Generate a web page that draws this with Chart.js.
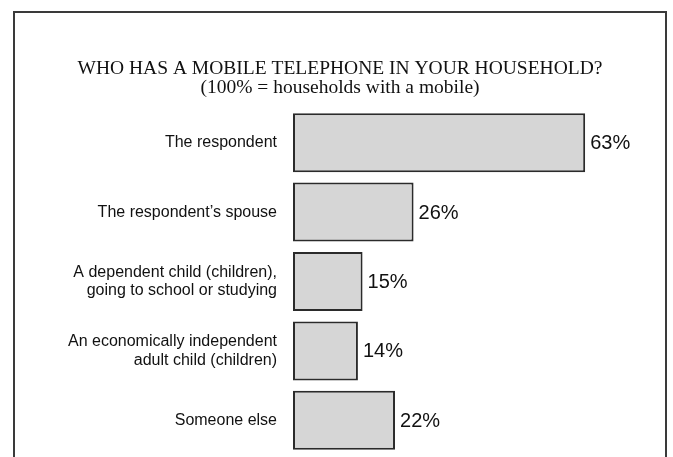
<!DOCTYPE html>
<html>
<head>
<meta charset="utf-8">
<script src="https://cdn.jsdelivr.net/npm/chart.js@4/dist/chart.umd.min.js"></script>
<style>
    html, body { margin: 0; padding: 0; background: #fff; overflow: hidden; }
    canvas { display: block; }
</style>
</head>
<body>
<canvas id="mobileChart" width="673" height="457"></canvas>
<script>
// who has a mobile in the household
const categories = [
    'The respondent',
    'The respondent\u2019s spouse',
    ['A dependent child (children),', 'going to school or studying'],
    ['An economically independent', 'adult child (children)'],
    'Someone else'
];
const shares = [63, 26, 15, 14, 22];
const titleLines = [
    'WHO HAS A MOBILE TELEPHONE IN YOUR HOUSEHOLD?',
    '(100% = households with a mobile)'
];

(function() {
    const frameColor = '#3a3a3a';

    const framePlugin = {
        id: 'frame',
        afterDraw(chart) {
            const ctx = chart.ctx;
            ctx.save();
            ctx.strokeStyle = frameColor;
            ctx.lineWidth = 2;
            ctx.beginPath();
            ctx.moveTo(14, 460);
            ctx.lineTo(14, 12);
            ctx.lineTo(666, 12);
            ctx.lineTo(666, 460);
            ctx.stroke();

            // title, two lines in serif
            ctx.fillStyle = '#111';
            ctx.textAlign = 'center';
            ctx.textBaseline = 'alphabetic';
            ctx.font = '19.5px "Liberation Serif"';
            ctx.fillText(titleLines[0], 340, 74);
            ctx.fillText(titleLines[1], 340, 93);
            ctx.restore();
        }
    };

    const valueLabels = {
        id: 'valueLabels',
        afterDatasetsDraw(chart) {
            const ctx = chart.ctx;
            const meta = chart.getDatasetMeta(0);
            ctx.save();
            ctx.fillStyle = '#111';
            ctx.font = '20px "Liberation Sans"';
            ctx.textAlign = 'left';
            ctx.textBaseline = 'middle';
            meta.data.forEach((bar, i) => {
                ctx.fillText(shares[i] + '%', bar.x + 5, bar.y + 1);
            });
            ctx.restore();
        }
    };

    const ctx = document.getElementById('mobileChart').getContext('2d');
    new Chart(ctx, {
        type: 'bar',
        data: {
            labels: categories,
            datasets: [{
                data: shares,
                backgroundColor: '#d6d6d6',
                borderColor: '#2b2b2b',
                borderWidth: 2,
                borderSkipped: false,
                barPercentage: 0.85,
                categoryPercentage: 1
            }]
        },
        options: {
            indexAxis: 'y',
            responsive: false,
            animation: false,
            layout: { padding: { top: 108, bottom: 2, left: 0, right: 9 } },
            plugins: {
                legend: { display: false },
                tooltip: { enabled: false }
            },
            scales: {
                x: { display: false, min: 0, max: 80 },
                y: {
                    grid: { display: false, drawTicks: false },
                    border: { display: false },
                    ticks: {
                        color: '#111',
                        padding: 16,
                        font: { family: '"Liberation Sans"', size: 16, lineHeight: 1.15 }
                    },
                    afterFit(scale) {
                        scale.width = 293;
                        scale.paddingTop = 0;
                        scale.paddingBottom = 0;
                    }
                }
            }
        },
        plugins: [framePlugin, valueLabels]
    });
})();
</script>
</body>
</html>
